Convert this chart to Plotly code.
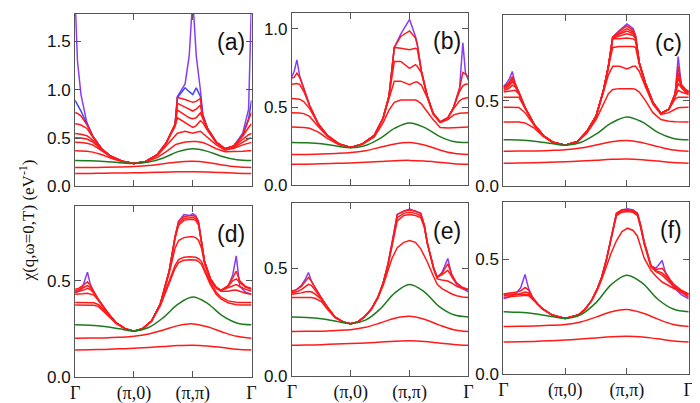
import plotly.graph_objects as go

W, H = 700, 403

# shared smooth grid for the three high-temperature curves
XS = [0, 0.25, 0.5, 0.75, 1.0, 1.25, 1.5, 1.75, 2.0, 2.25, 2.5, 2.75, 3.0]
TICK_X = [0, 1, 2, 3]
TICK_TEXT = ["Γ", "(π,0)", "(π,π)", "Γ"]

# ---------------- panel (a) ----------------
xa = [0, 0.04, 0.1, 0.2, 0.3, 0.45, 0.6, 0.8, 1.0, 1.2, 1.4, 1.55, 1.7, 1.74, 1.87, 1.94, 2.0, 2.06, 2.13, 2.17, 2.25, 2.4, 2.55, 2.7, 2.85, 2.95, 3.0]
a_purple = [1.95, 1.3, 0.95, 0.66, 0.52, 0.39, 0.315, 0.262, 0.238, 0.258, 0.33, 0.45, 0.64, 0.93, 1.06, 1.35, 1.95, 1.35, 1.0, 0.75, 0.60, 0.46, 0.39, 0.42, 0.55, 0.80, 1.95]
a_blue = [0.89, 0.85, 0.78, 0.65, 0.52, 0.39, 0.315, 0.262, 0.238, 0.258, 0.33, 0.45, 0.64, 0.92, 1.02, 0.98, 0.95, 1.02, 0.93, 0.74, 0.60, 0.46, 0.39, 0.42, 0.53, 0.70, 0.89]
a_red1 = [0.765, 0.755, 0.73, 0.64, 0.52, 0.39, 0.315, 0.262, 0.238, 0.258, 0.33, 0.45, 0.64, 0.92, 0.90, 0.88, 0.87, 0.88, 0.91, 0.73, 0.60, 0.46, 0.39, 0.42, 0.53, 0.69, 0.765]
a_red2 = [0.648, 0.646, 0.635, 0.60, 0.51, 0.39, 0.315, 0.262, 0.238, 0.258, 0.33, 0.45, 0.64, 0.86, 0.82, 0.80, 0.78, 0.80, 0.84, 0.72, 0.60, 0.46, 0.39, 0.42, 0.52, 0.61, 0.648]
a_red3 = [0.547, 0.546, 0.54, 0.525, 0.48, 0.385, 0.315, 0.262, 0.238, 0.258, 0.33, 0.45, 0.64, 0.79, 0.74, 0.71, 0.70, 0.71, 0.76, 0.70, 0.59, 0.455, 0.39, 0.415, 0.49, 0.535, 0.547]
a_red4 = [0.503, 0.502, 0.50, 0.49, 0.46, 0.38, 0.313, 0.262, 0.238, 0.258, 0.33, 0.45, 0.62, 0.71, 0.66, 0.63, 0.61, 0.63, 0.68, 0.66, 0.58, 0.45, 0.385, 0.405, 0.46, 0.493, 0.503]
a_red5 = [0.456, 0.456, 0.454, 0.447, 0.43, 0.37, 0.31, 0.26, 0.238, 0.256, 0.32, 0.42, 0.52, 0.55, 0.57, 0.56, 0.55, 0.56, 0.57, 0.55, 0.51, 0.43, 0.375, 0.395, 0.43, 0.45, 0.456]
a_red6 = [0.37, 0.37, 0.369, 0.365, 0.355, 0.33, 0.295, 0.255, 0.237, 0.252, 0.30, 0.36, 0.43, 0.44, 0.46, 0.465, 0.465, 0.465, 0.46, 0.455, 0.435, 0.39, 0.36, 0.36, 0.365, 0.369, 0.37]
a_green = [0.268, 0.266, 0.258, 0.246, 0.238, 0.252, 0.295, 0.36, 0.39, 0.363, 0.31, 0.276, 0.268]
a_r2 = [0.195, 0.196, 0.198, 0.201, 0.206, 0.216, 0.235, 0.254, 0.26, 0.248, 0.222, 0.203, 0.195]
a_r1 = [0.134, 0.135, 0.137, 0.139, 0.141, 0.144, 0.148, 0.151, 0.152, 0.15, 0.144, 0.137, 0.134]

# ---------------- panel (b) ----------------
xb = [0, 0.04, 0.084, 0.13, 0.2, 0.3, 0.45, 0.6, 0.8, 1.0, 1.2, 1.4, 1.55, 1.65, 1.74, 1.85, 2.0, 2.1, 2.13, 2.2, 2.3, 2.4, 2.52, 2.65, 2.75, 2.85, 2.905, 2.95, 3.0]
b_purple = [0.695, 0.73, 0.80, 0.70, 0.62, 0.51, 0.39, 0.32, 0.265, 0.243, 0.265, 0.32, 0.43, 0.57, 0.88, 0.965, 1.058, 0.95, 0.90, 0.73, 0.57, 0.46, 0.405, 0.43, 0.50, 0.62, 0.91, 0.72, 0.67]
b_red1 = [0.685, 0.69, 0.716, 0.69, 0.62, 0.51, 0.39, 0.32, 0.265, 0.243, 0.265, 0.32, 0.43, 0.57, 0.88, 0.95, 0.985, 0.94, 0.90, 0.73, 0.57, 0.46, 0.405, 0.43, 0.50, 0.62, 0.72, 0.71, 0.69]
b_red2 = [0.645, 0.648, 0.65, 0.645, 0.60, 0.51, 0.39, 0.32, 0.265, 0.243, 0.265, 0.32, 0.43, 0.57, 0.88, 0.875, 0.865, 0.875, 0.87, 0.73, 0.57, 0.46, 0.405, 0.43, 0.50, 0.60, 0.635, 0.645, 0.647]
b_red3 = [0.554, 0.554, 0.553, 0.55, 0.535, 0.49, 0.39, 0.32, 0.265, 0.243, 0.265, 0.32, 0.43, 0.57, 0.79, 0.79, 0.747, 0.77, 0.76, 0.72, 0.57, 0.46, 0.405, 0.43, 0.49, 0.54, 0.553, 0.557, 0.56]
b_red4 = [0.463, 0.463, 0.463, 0.462, 0.458, 0.44, 0.375, 0.315, 0.264, 0.243, 0.265, 0.32, 0.43, 0.56, 0.665, 0.665, 0.643, 0.66, 0.66, 0.64, 0.56, 0.455, 0.40, 0.42, 0.45, 0.46, 0.462, 0.463, 0.463]
b_red5 = [0.373, 0.373, 0.373, 0.372, 0.37, 0.365, 0.34, 0.30, 0.26, 0.242, 0.262, 0.31, 0.40, 0.48, 0.53, 0.545, 0.545, 0.545, 0.54, 0.52, 0.47, 0.42, 0.37, 0.366, 0.368, 0.371, 0.372, 0.373, 0.373]
b_green = [0.274, 0.272, 0.266, 0.252, 0.24, 0.255, 0.30, 0.365, 0.398, 0.37, 0.315, 0.28, 0.274]
b_r2 = [0.197, 0.198, 0.20, 0.204, 0.21, 0.222, 0.243, 0.265, 0.274, 0.258, 0.228, 0.205, 0.197]
b_r1 = [0.135, 0.136, 0.138, 0.141, 0.144, 0.148, 0.153, 0.158, 0.16, 0.156, 0.148, 0.139, 0.135]

# ---------------- panel (c) ----------------
xc = [0, 0.05, 0.1, 0.144, 0.19, 0.25, 0.35, 0.5, 0.65, 0.8, 1.0, 1.2, 1.35, 1.5, 1.62, 1.7, 1.77, 1.88, 2.0, 2.1, 2.14, 2.2, 2.3, 2.42, 2.55, 2.68, 2.78, 2.83, 2.88, 2.95, 3.0]
c_purple = [0.585, 0.60, 0.63, 0.67, 0.60, 0.55, 0.46, 0.36, 0.295, 0.258, 0.24, 0.262, 0.32, 0.41, 0.56, 0.70, 0.87, 0.91, 0.947, 0.92, 0.88, 0.72, 0.60, 0.49, 0.425, 0.45, 0.54, 0.757, 0.59, 0.56, 0.55]
c_red1 = [0.58, 0.59, 0.61, 0.64, 0.60, 0.55, 0.46, 0.36, 0.295, 0.258, 0.24, 0.262, 0.32, 0.41, 0.56, 0.70, 0.87, 0.905, 0.935, 0.91, 0.875, 0.72, 0.60, 0.49, 0.425, 0.45, 0.54, 0.70, 0.595, 0.565, 0.555]
c_red2 = [0.575, 0.585, 0.60, 0.625, 0.595, 0.55, 0.46, 0.36, 0.295, 0.258, 0.24, 0.262, 0.32, 0.41, 0.56, 0.70, 0.87, 0.895, 0.92, 0.90, 0.87, 0.72, 0.60, 0.49, 0.425, 0.45, 0.54, 0.66, 0.59, 0.56, 0.55]
c_red3 = [0.57, 0.575, 0.59, 0.61, 0.59, 0.548, 0.46, 0.36, 0.295, 0.258, 0.24, 0.262, 0.32, 0.41, 0.56, 0.70, 0.87, 0.885, 0.905, 0.89, 0.865, 0.72, 0.60, 0.49, 0.425, 0.45, 0.54, 0.63, 0.585, 0.555, 0.545]
c_red4 = [0.56, 0.565, 0.575, 0.59, 0.58, 0.545, 0.46, 0.36, 0.295, 0.258, 0.24, 0.262, 0.32, 0.41, 0.56, 0.70, 0.865, 0.875, 0.89, 0.88, 0.86, 0.72, 0.60, 0.49, 0.425, 0.45, 0.535, 0.60, 0.575, 0.55, 0.54]
c_red5 = [0.55, 0.552, 0.555, 0.56, 0.56, 0.54, 0.46, 0.36, 0.295, 0.258, 0.24, 0.262, 0.32, 0.41, 0.56, 0.70, 0.86, 0.86, 0.865, 0.86, 0.85, 0.72, 0.60, 0.49, 0.425, 0.45, 0.53, 0.56, 0.55, 0.54, 0.535]
c_red6 = [0.52, 0.52, 0.522, 0.523, 0.524, 0.52, 0.455, 0.36, 0.295, 0.258, 0.24, 0.262, 0.32, 0.41, 0.56, 0.70, 0.81, 0.815, 0.815, 0.815, 0.81, 0.71, 0.60, 0.49, 0.425, 0.45, 0.51, 0.52, 0.52, 0.52, 0.52]
c_red7 = [0.462, 0.462, 0.462, 0.462, 0.462, 0.46, 0.43, 0.355, 0.293, 0.258, 0.24, 0.262, 0.32, 0.41, 0.55, 0.65, 0.70, 0.70, 0.685, 0.70, 0.70, 0.67, 0.58, 0.48, 0.42, 0.43, 0.45, 0.458, 0.46, 0.462, 0.462]
c_red8 = [0.376, 0.376, 0.376, 0.376, 0.376, 0.375, 0.37, 0.34, 0.29, 0.255, 0.24, 0.26, 0.31, 0.39, 0.48, 0.54, 0.565, 0.57, 0.57, 0.57, 0.565, 0.55, 0.50, 0.43, 0.39, 0.38, 0.377, 0.376, 0.376, 0.376, 0.376]
c_green = [0.272, 0.27, 0.264, 0.252, 0.24, 0.256, 0.305, 0.37, 0.405, 0.375, 0.315, 0.28, 0.272]
c_r2 = [0.205, 0.206, 0.207, 0.21, 0.214, 0.224, 0.241, 0.26, 0.268, 0.255, 0.232, 0.212, 0.205]
c_r1 = [0.135, 0.136, 0.138, 0.141, 0.144, 0.148, 0.153, 0.158, 0.16, 0.156, 0.148, 0.139, 0.135]

# ---------------- panel (d) ----------------
xd = [0, 0.06, 0.13, 0.21, 0.26, 0.32, 0.4, 0.55, 0.7, 0.85, 1.0, 1.15, 1.3, 1.45, 1.6, 1.7, 1.76, 1.85, 1.95, 2.0, 2.05, 2.1, 2.15, 2.2, 2.3, 2.4, 2.48, 2.6, 2.68, 2.74, 2.8, 2.9, 3.0]
d_purple = [0.437, 0.445, 0.47, 0.545, 0.48, 0.44, 0.40, 0.335, 0.28, 0.25, 0.237, 0.25, 0.29, 0.38, 0.55, 0.73, 0.81, 0.845, 0.84, 0.85, 0.84, 0.81, 0.70, 0.60, 0.51, 0.465, 0.45, 0.47, 0.53, 0.63, 0.47, 0.44, 0.43]
d_red1 = [0.455, 0.46, 0.475, 0.495, 0.475, 0.44, 0.40, 0.335, 0.28, 0.25, 0.237, 0.25, 0.29, 0.38, 0.55, 0.73, 0.81, 0.835, 0.84, 0.84, 0.835, 0.80, 0.70, 0.60, 0.51, 0.465, 0.45, 0.475, 0.515, 0.55, 0.50, 0.47, 0.46]
d_red2 = [0.448, 0.452, 0.462, 0.475, 0.465, 0.44, 0.40, 0.335, 0.28, 0.25, 0.237, 0.25, 0.29, 0.38, 0.55, 0.73, 0.80, 0.825, 0.83, 0.83, 0.825, 0.795, 0.70, 0.60, 0.51, 0.465, 0.45, 0.47, 0.50, 0.51, 0.49, 0.465, 0.455]
d_red3 = [0.44, 0.443, 0.45, 0.46, 0.455, 0.435, 0.40, 0.335, 0.28, 0.25, 0.237, 0.25, 0.29, 0.38, 0.55, 0.72, 0.79, 0.815, 0.82, 0.82, 0.815, 0.79, 0.70, 0.60, 0.51, 0.465, 0.45, 0.465, 0.475, 0.48, 0.47, 0.455, 0.445]
d_red4 = [0.43, 0.43, 0.432, 0.435, 0.432, 0.425, 0.395, 0.333, 0.28, 0.25, 0.237, 0.25, 0.29, 0.38, 0.54, 0.67, 0.71, 0.725, 0.73, 0.73, 0.725, 0.71, 0.67, 0.59, 0.50, 0.46, 0.445, 0.445, 0.45, 0.452, 0.445, 0.435, 0.43]
d_red5 = [0.386, 0.386, 0.386, 0.386, 0.386, 0.385, 0.375, 0.325, 0.278, 0.25, 0.237, 0.25, 0.29, 0.375, 0.50, 0.58, 0.61, 0.622, 0.625, 0.624, 0.622, 0.615, 0.60, 0.56, 0.49, 0.44, 0.415, 0.395, 0.39, 0.388, 0.387, 0.386, 0.386]
d_red6 = [0.373, 0.373, 0.373, 0.373, 0.373, 0.372, 0.365, 0.32, 0.276, 0.249, 0.237, 0.25, 0.29, 0.37, 0.49, 0.565, 0.595, 0.607, 0.61, 0.61, 0.608, 0.60, 0.585, 0.55, 0.48, 0.43, 0.405, 0.385, 0.378, 0.375, 0.374, 0.373, 0.373]
d_green = [0.27, 0.268, 0.262, 0.25, 0.238, 0.256, 0.308, 0.378, 0.415, 0.382, 0.318, 0.28, 0.27]
d_r2 = [0.20, 0.201, 0.202, 0.205, 0.21, 0.222, 0.243, 0.266, 0.275, 0.26, 0.233, 0.21, 0.20]
d_r1 = [0.139, 0.14, 0.142, 0.145, 0.148, 0.152, 0.157, 0.162, 0.164, 0.16, 0.152, 0.143, 0.139]

# ---------------- panel (e) ----------------
xe = [0, 0.08, 0.16, 0.23, 0.28, 0.33, 0.39, 0.5, 0.6, 0.73, 0.87, 1.0, 1.12, 1.23, 1.35, 1.46, 1.55, 1.63, 1.7, 1.79, 1.9, 2.0, 2.1, 2.19, 2.25, 2.3, 2.41, 2.47, 2.55, 2.65, 2.72, 2.8, 2.9, 3.0]
e_purple = [0.39, 0.40, 0.42, 0.45, 0.48, 0.44, 0.41, 0.36, 0.32, 0.273, 0.25, 0.242, 0.25, 0.273, 0.31, 0.364, 0.43, 0.515, 0.61, 0.75, 0.765, 0.775, 0.765, 0.755, 0.70, 0.62, 0.50, 0.458, 0.48, 0.545, 0.46, 0.424, 0.405, 0.39]
e_red1 = [0.394, 0.40, 0.415, 0.44, 0.457, 0.44, 0.41, 0.36, 0.32, 0.273, 0.25, 0.242, 0.25, 0.273, 0.31, 0.364, 0.43, 0.515, 0.61, 0.75, 0.765, 0.77, 0.765, 0.755, 0.70, 0.62, 0.50, 0.458, 0.475, 0.52, 0.47, 0.43, 0.41, 0.40]
e_red2 = [0.386, 0.39, 0.40, 0.415, 0.425, 0.42, 0.40, 0.36, 0.32, 0.273, 0.25, 0.242, 0.25, 0.273, 0.31, 0.364, 0.43, 0.515, 0.61, 0.735, 0.755, 0.76, 0.755, 0.745, 0.70, 0.62, 0.50, 0.458, 0.47, 0.49, 0.46, 0.43, 0.41, 0.40]
e_red3 = [0.379, 0.381, 0.385, 0.39, 0.392, 0.39, 0.38, 0.355, 0.318, 0.272, 0.25, 0.242, 0.25, 0.273, 0.31, 0.364, 0.43, 0.51, 0.60, 0.72, 0.745, 0.75, 0.745, 0.735, 0.69, 0.615, 0.495, 0.45, 0.445, 0.44, 0.43, 0.415, 0.405, 0.40]
e_red4 = [0.364, 0.364, 0.364, 0.364, 0.364, 0.363, 0.36, 0.345, 0.31, 0.27, 0.249, 0.242, 0.25, 0.272, 0.308, 0.36, 0.42, 0.49, 0.545, 0.595, 0.62, 0.629, 0.62, 0.59, 0.56, 0.53, 0.46, 0.425, 0.405, 0.39, 0.38, 0.372, 0.366, 0.364]
e_green = [0.273, 0.271, 0.265, 0.253, 0.242, 0.258, 0.31, 0.385, 0.424, 0.39, 0.322, 0.283, 0.273]
e_r2 = [0.205, 0.206, 0.207, 0.21, 0.214, 0.225, 0.245, 0.267, 0.276, 0.262, 0.236, 0.214, 0.205]
e_r1 = [0.141, 0.142, 0.144, 0.147, 0.149, 0.152, 0.156, 0.16, 0.162, 0.159, 0.152, 0.145, 0.141]

# ---------------- panel (f) ----------------
xf = [0, 0.1, 0.2, 0.28, 0.35, 0.41, 0.47, 0.55, 0.63, 0.79, 1.0, 1.21, 1.32, 1.43, 1.52, 1.59, 1.67, 1.75, 1.83, 1.92, 2.01, 2.1, 2.17, 2.22, 2.28, 2.39, 2.47, 2.57, 2.63, 2.7, 2.76, 2.88, 3.0]
f_purple = [0.327, 0.335, 0.35, 0.375, 0.433, 0.37, 0.334, 0.305, 0.284, 0.256, 0.241, 0.256, 0.28, 0.32, 0.37, 0.42, 0.50, 0.60, 0.70, 0.715, 0.72, 0.715, 0.70, 0.65, 0.575, 0.47, 0.46, 0.494, 0.433, 0.40, 0.376, 0.345, 0.327]
f_red1 = [0.348, 0.35, 0.355, 0.362, 0.376, 0.365, 0.334, 0.305, 0.284, 0.256, 0.241, 0.256, 0.28, 0.32, 0.37, 0.42, 0.50, 0.60, 0.70, 0.715, 0.717, 0.712, 0.70, 0.65, 0.575, 0.47, 0.455, 0.46, 0.44, 0.41, 0.39, 0.365, 0.348]
f_red2 = [0.341, 0.342, 0.345, 0.35, 0.356, 0.352, 0.33, 0.304, 0.284, 0.256, 0.241, 0.256, 0.28, 0.32, 0.37, 0.42, 0.50, 0.60, 0.695, 0.71, 0.712, 0.708, 0.695, 0.645, 0.57, 0.47, 0.45, 0.44, 0.425, 0.405, 0.385, 0.36, 0.341]
f_red3 = [0.334, 0.335, 0.337, 0.34, 0.342, 0.34, 0.325, 0.302, 0.283, 0.256, 0.241, 0.256, 0.28, 0.32, 0.37, 0.42, 0.50, 0.595, 0.69, 0.705, 0.708, 0.704, 0.69, 0.64, 0.565, 0.465, 0.445, 0.43, 0.415, 0.395, 0.38, 0.355, 0.334]
f_red4 = [0.348, 0.348, 0.348, 0.348, 0.348, 0.346, 0.334, 0.305, 0.284, 0.256, 0.241, 0.256, 0.28, 0.32, 0.365, 0.41, 0.47, 0.53, 0.58, 0.62, 0.635, 0.625, 0.60, 0.56, 0.504, 0.45, 0.425, 0.40, 0.39, 0.38, 0.372, 0.358, 0.348]
f_green = [0.27, 0.268, 0.262, 0.251, 0.241, 0.257, 0.31, 0.39, 0.43, 0.395, 0.325, 0.282, 0.27]
f_r2 = [0.206, 0.207, 0.208, 0.211, 0.215, 0.226, 0.247, 0.27, 0.28, 0.265, 0.238, 0.215, 0.206]
f_r1 = [0.138, 0.139, 0.141, 0.144, 0.147, 0.151, 0.156, 0.161, 0.163, 0.16, 0.152, 0.143, 0.138]

PURPLE = "#8a3cf0"
BLUE = "#3c46ff"
RED = "#ff1a1a"
GREEN = "#1f7a1f"
FRAME = "#555555"

panels = [
    dict(x=xa, purple=a_purple, blue=a_blue, reds=[a_red1, a_red2, a_red3, a_red4, a_red5, a_red6],
         green=a_green, r2=a_r2, r1=a_r1, yr=[0, 1.785], yt=[0, 0.5, 1.0, 1.5],
         px=(63, 242), py=(6, 183), label="(a)", bottom=False),
    dict(x=xb, purple=b_purple, blue=None, reds=[b_red1, b_red2, b_red3, b_red4, b_red5],
         green=b_green, r2=b_r2, r1=b_r1, yr=[0, 1.10], yt=[0, 0.5, 1.0],
         px=(283, 462), py=(5, 182), label="(b)", bottom=False),
    dict(x=xc, purple=c_purple, blue=None, reds=[c_red1, c_red2, c_red3, c_red4, c_red5, c_red6, c_red7, c_red8],
         green=c_green, r2=c_r2, r1=c_r1, yr=[0, 1.0], yt=[0, 0.5, 1.0],
         px=(497.5, 685.5), py=(7, 183), label="(c)", bottom=False),
    dict(x=xd, purple=d_purple, blue=None, reds=[d_red1, d_red2, d_red3, d_red4, d_red5, d_red6],
         green=d_green, r2=d_r2, r1=d_r1, yr=[0, 0.89], yt=[0, 0.5],
         px=(63, 242), py=(203, 378), label="(d)", bottom=True),
    dict(x=xe, purple=e_purple, blue=None, reds=[e_red1, e_red2, e_red3, e_red4],
         green=e_green, r2=e_r2, r1=e_r1, yr=[0, 0.803], yt=[0, 0.5],
         px=(283, 462), py=(200, 377), label="(e)", bottom=True),
    dict(x=xf, purple=f_purple, blue=None, reds=[f_red1, f_red2, f_red3, f_red4],
         green=f_green, r2=f_r2, r1=f_r1, yr=[0, 0.749], yt=[0, 0.5],
         px=(497.5, 685.5), py=(199, 375), label="(f)", bottom=True),
]

fig = go.Figure()
annotations = []
for i, p in enumerate(panels, start=1):
    xn = "x" if i == 1 else f"x{i}"
    yn = "y" if i == 1 else f"y{i}"

    def add(x, y, color, shape="linear", width=1.5):
        fig.add_trace(go.Scatter(x=x, y=y, mode="lines", xaxis=xn, yaxis=yn,
                                 line=dict(color=color, width=width, shape=shape),
                                 showlegend=False, hoverinfo="skip"))

    add(p["x"], p["purple"], PURPLE)
    if p["blue"] is not None:
        add(p["x"], p["blue"], BLUE)
    for r in p["reds"]:
        add(p["x"], r, RED)
    add(XS, p["green"], GREEN, "spline")
    add(XS, p["r2"], RED, "spline")
    add(XS, p["r1"], RED, "spline")

    x0, x1 = p["px"]
    y0, y1 = p["py"]
    xa_key = "xaxis" if i == 1 else f"xaxis{i}"
    ya_key = "yaxis" if i == 1 else f"yaxis{i}"
    fig.layout[xa_key] = dict(
        domain=[x0 / W, x1 / W], range=[0, 3], anchor=yn,
        tickvals=TICK_X, ticktext=TICK_TEXT, showticklabels=p["bottom"],
        ticks="inside", ticklen=6, tickwidth=1, tickcolor=FRAME,
        showline=True, linecolor=FRAME, linewidth=1, mirror="ticks",
        showgrid=False, zeroline=False,
        tickfont=dict(family="Liberation Serif, Times New Roman, serif", size=18, color="#111"),
    )
    fig.layout[ya_key] = dict(
        domain=[1 - y1 / H, 1 - y0 / H], range=p["yr"], anchor=xn,
        tickvals=p["yt"], tickformat=".1f",
        ticks="inside", ticklen=6, tickwidth=1, tickcolor=FRAME,
        showline=True, linecolor=FRAME, linewidth=1, mirror="ticks",
        showgrid=False, zeroline=False,
        tickfont=dict(family="Liberation Sans, Arial, sans-serif", size=17, color="#111"),
    )
    annotations.append(dict(
        text=p["label"], x=(x1 - 5) / W, y=1 - (y0 + 29) / H,
        xref="paper", yref="paper", xanchor="right", yanchor="middle",
        showarrow=False, font=dict(family="Liberation Sans, Arial, sans-serif", size=23, color="#111"),
    ))

annotations.append(dict(
    text="χ(q,ω=0,T) (eV<sup>-1</sup>)", x=14 / W, y=1 - 218 / H,
    xref="paper", yref="paper", xanchor="center", yanchor="middle", textangle=-90,
    showarrow=False, font=dict(family="Liberation Serif, Times New Roman, serif", size=17, color="#111"),
))

fig.update_layout(
    width=W, height=H, margin=dict(l=0, r=0, t=0, b=0),
    paper_bgcolor="white", plot_bgcolor="white",
    annotations=annotations, showlegend=False,
)

fig.write_html("out.html")
